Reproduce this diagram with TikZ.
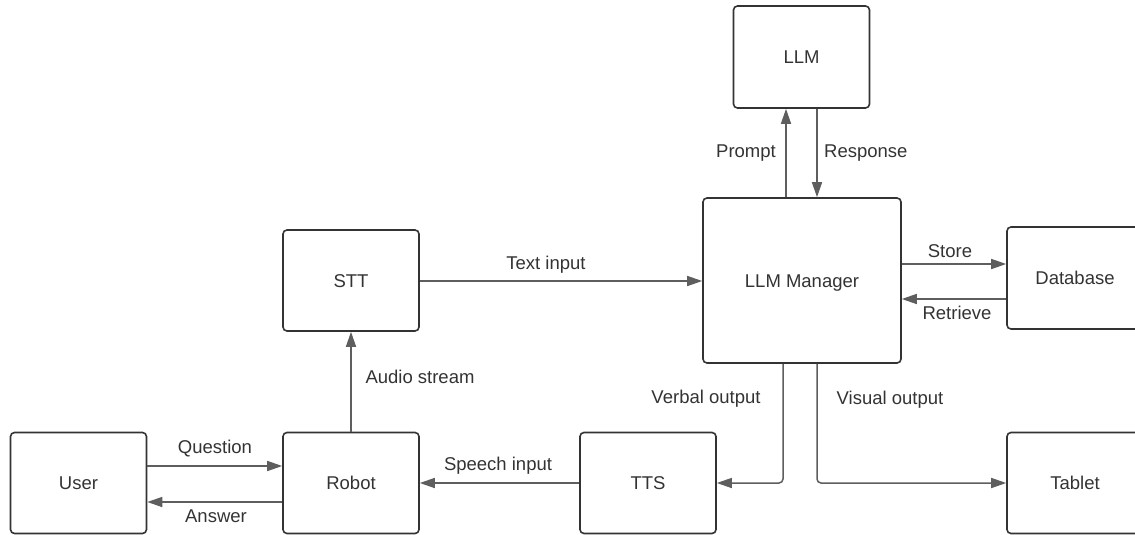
\documentclass[tikz,border=0pt]{standalone}
\usepackage{fontspec}
\setmainfont{Liberation Sans}
\usetikzlibrary{arrows.meta}
\definecolor{boxline}{HTML}{333333}
\definecolor{arrline}{HTML}{5E5E5E}
\definecolor{txt}{HTML}{333333}
\begin{document}
\begin{tikzpicture}[x=1pt,y=-1pt,
  font=\fontsize{18.5}{22}\selectfont,
  box/.style={draw=boxline,line width=1.6pt,rounded corners=4pt,minimum width=136pt,minimum height=101pt,text=txt,inner sep=0pt,text height=13.3pt,text depth=0pt},
  arr/.style={draw=arrline,line width=1.5pt,-{Triangle[length=15pt,width=10pt]},rounded corners=4pt},
  lbl/.style={text=txt,inner sep=0pt,text height=13.3pt,text depth=0pt}]
\useasboundingbox (0,0) rectangle (1135,535);
\node[box] (user) at (78.5,483) {User};
\node[box] (robot) at (351,483) {Robot};
\node[box] (stt) at (351,280.5) {STT};
\node[box,minimum width=198pt,minimum height=165pt] (mgr) at (802,280.5) {LLM Manager};
\node[box,minimum height=102pt] (llm) at (801.5,57) {LLM};
\node[box,minimum height=102pt] (db) at (1075,278) {Database};
\node[box] (tts) at (648,483) {TTS};
\node[box] (tablet) at (1075,483) {Tablet};
% connectors
\draw[arr] (user.east |- 0,466) -- (robot.west |- 0,466);
\draw[arr] (robot.west |- 0,502) -- (user.east |- 0,502);
\draw[arr] (robot.north) -- (stt.south);
\draw[arr] (stt.east |- 0,281) -- (mgr.west |- 0,281);
\draw[arr] (mgr.north -| 786,0) -- (llm.south -| 786,0);
\draw[arr] (llm.south -| 817,0) -- (mgr.north -| 817,0);
\draw[arr] (mgr.east |- 0,264) -- (db.west |- 0,264);
\draw[arr] (db.west |- 0,299) -- (mgr.east |- 0,299);
\draw[arr] (tts.west) -- (robot.east);
\draw[arr] (mgr.south -| 783,0) |- (tts.east);
\draw[arr] (mgr.south -| 817,0) |- (tablet.west);
% labels
\node[lbl] (lq) at (215,447) {Question};
\node[lbl] (la) at (216,516) {Answer};
\node[lbl] (las) at (420,377) {Audio stream};
\node[lbl] (lti) at (546,263) {Text input};
\node[lbl,anchor=east] (lp) at (776,151) {Prompt};
\node[lbl,anchor=west] (lr) at (824,151) {Response};
\node[lbl] (ls) at (950,251) {Store};
\node[lbl] (lre) at (957,313) {Retrieve};
\node[lbl] (lsi) at (498,464) {Speech input};
\node[lbl] (lvo) at (706,397) {Verbal output};
\node[lbl] (lvi) at (890,398) {Visual output};
\end{tikzpicture}
\end{document}
